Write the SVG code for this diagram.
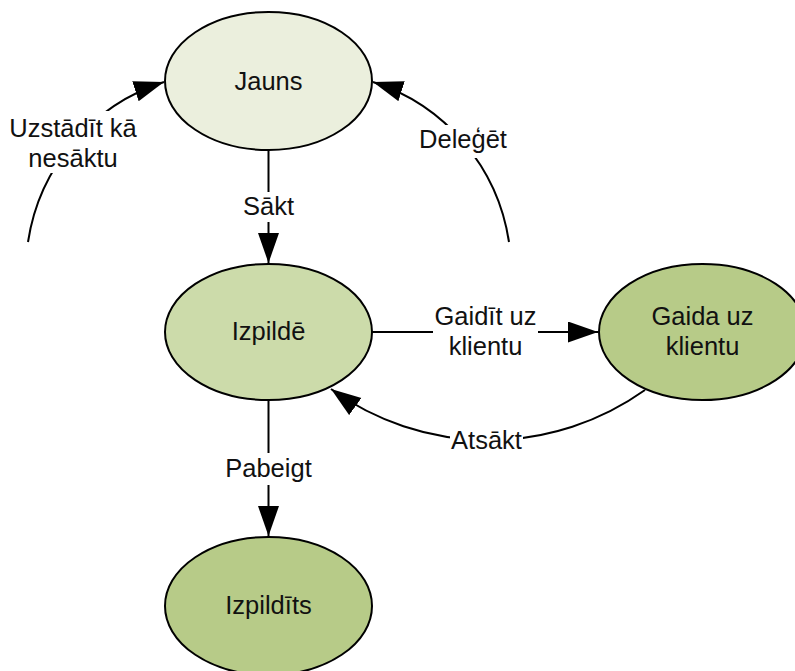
<svg xmlns="http://www.w3.org/2000/svg" width="795" height="671" viewBox="0 0 795 671">
<style>
  .node { stroke: #000; stroke-width: 2; }
  .edge { fill: none; stroke: #000; stroke-width: 2; }
  .lbl { font-family: "Liberation Sans", Arial, sans-serif; font-size: 25.5px; fill: #111; text-anchor: middle; }
  .bg { fill: #fff; stroke: none; }
</style>
<defs>
  <marker id="arrow" markerUnits="userSpaceOnUse" markerWidth="31" markerHeight="22" refX="30" refY="10.5" orient="auto" viewBox="0 0 31 22">
    <path d="M0,0 L30,10.5 L0,21 z" fill="#000"/>
  </marker>
</defs>
<rect width="795" height="671" fill="#fff"/>

<g id="connectors">
  <path class="edge" d="M268.5,150 L268.5,263" marker-end="url(#arrow)"/>
  <path class="edge" d="M268.5,400 L268.5,536" marker-end="url(#arrow)"/>
  <path class="edge" d="M372,332 L598,332" marker-end="url(#arrow)"/>
  <path class="edge" d="M645,390 A269,269 0 0 1 331,389" marker-end="url(#arrow)"/>
  <path class="edge" d="M28,242 A199,199 0 0 1 164,82" marker-end="url(#arrow)"/>
  <path class="edge" d="M509,242 A199,199 0 0 0 373,82" marker-end="url(#arrow)"/>

  <rect class="bg" x="244" y="192" width="49" height="30"/>
  <text class="lbl" x="268.5" y="215">Sākt</text>
  <rect class="bg" x="224" y="453" width="90" height="32"/>
  <text class="lbl" x="268.5" y="477">Pabeigt</text>
  <rect class="bg" x="433" y="305" width="105" height="57"/>
  <text class="lbl" x="485.5" y="325">Gaidīt uz</text>
  <text class="lbl" x="485.5" y="355">klientu</text>
  <rect class="bg" x="450" y="428" width="73" height="27"/>
  <text class="lbl" x="486.5" y="449">Atsākt</text>
  <rect class="bg" x="6" y="111" width="134" height="62"/>
  <text class="lbl" x="73" y="137">Uzstādīt kā</text>
  <text class="lbl" x="73" y="167">nesāktu</text>
  <rect class="bg" x="416" y="125" width="94" height="33"/>
  <text class="lbl" x="463" y="148">Deleģēt</text>
</g>

<g id="jauns">
  <ellipse class="node" cx="268.5" cy="81" rx="103.5" ry="69" fill="#EBEFDD"/>
  <text class="lbl" x="268.5" y="90">Jauns</text>
</g>
<g id="izpilde">
  <ellipse class="node" cx="268.5" cy="332" rx="103.5" ry="68" fill="#CCDBAA"/>
  <text class="lbl" x="268.5" y="340">Izpildē</text>
</g>
<g id="gaida">
  <ellipse class="node" cx="702.5" cy="332" rx="103.5" ry="68" fill="#B7CB88"/>
  <text class="lbl" x="702.5" y="325">Gaida uz</text>
  <text class="lbl" x="702.5" y="355">klientu</text>
</g>
<g id="izpildits">
  <ellipse class="node" cx="268.5" cy="606" rx="103.5" ry="69" fill="#B7CB88"/>
  <text class="lbl" x="268.5" y="614">Izpildīts</text>
</g>
</svg>
